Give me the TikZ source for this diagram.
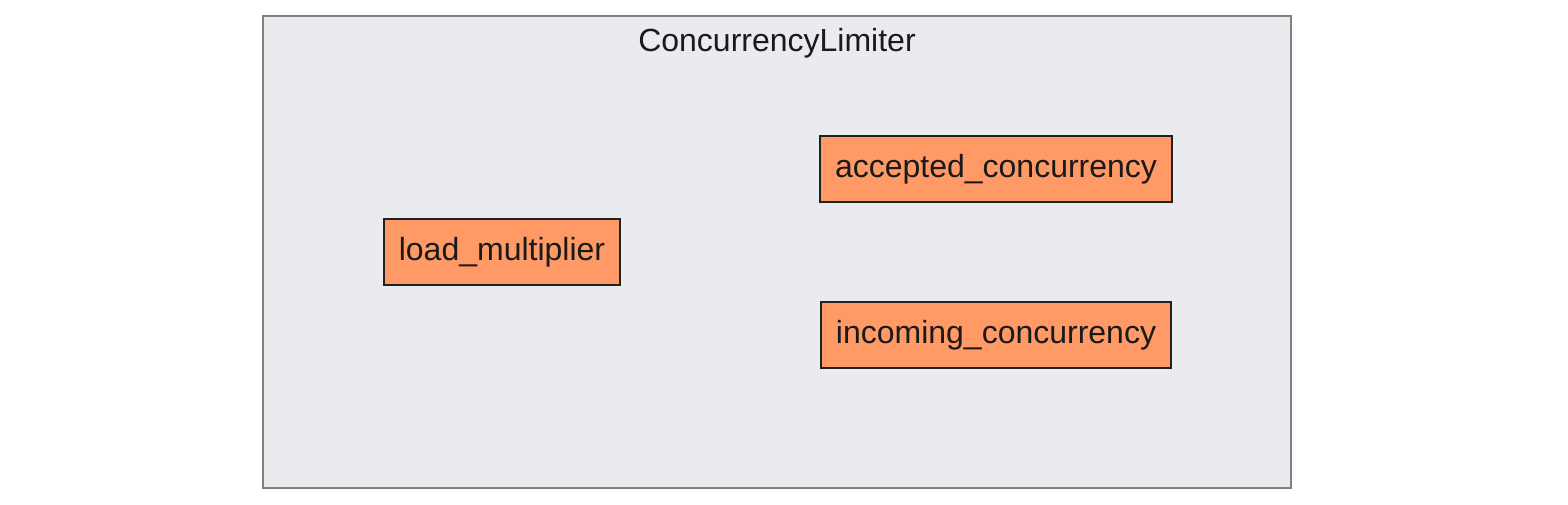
\documentclass[tikz,border=0pt]{standalone}
\usepackage{fontspec}
\setmainfont{Liberation Sans}
\definecolor{clusterfill}{HTML}{EAEBEF}
\definecolor{clusterline}{HTML}{808080}
\definecolor{nodefill}{HTML}{FF9966}
\definecolor{nodeline}{HTML}{222222}
\definecolor{txt}{HTML}{1A1A1A}
\tikzset{
  cluster/.style={draw=clusterline, fill=clusterfill, line width=1pt},
  compbox/.style={draw=nodeline, fill=nodefill, line width=1pt, inner sep=0pt,
    text=txt, font=\fontsize{16}{19}\selectfont},
  titletext/.style={text=txt, font=\fontsize{16}{19}\selectfont, inner sep=0pt}
}
\begin{document}
\begin{tikzpicture}[x=0.5pt,y=-0.5pt]
\useasboundingbox (0,0) rectangle (1568,504);
\draw[cluster] (263,16) rectangle (1291,488);
\node[titletext] (title) at (777,43) {ConcurrencyLimiter};
\node[compbox, minimum width=118pt, minimum height=33pt] (lm) at (502,252) {load\_multiplier};
\node[compbox, minimum width=176pt, minimum height=33pt] (ac) at (996,169) {accepted\_concurrency};
\node[compbox, minimum width=175pt, minimum height=33pt] (ic) at (996,335) {incoming\_concurrency};
\end{tikzpicture}
\end{document}
